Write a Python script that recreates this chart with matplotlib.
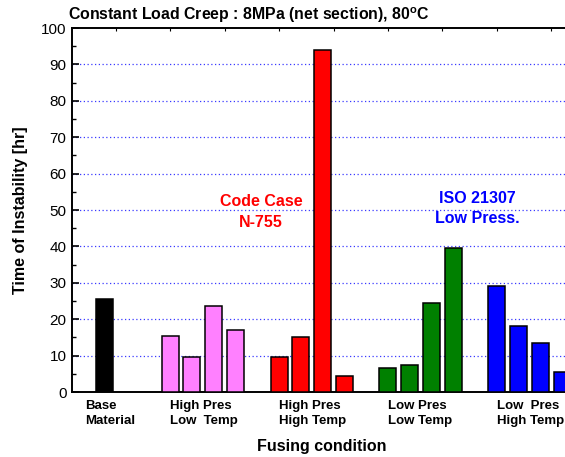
import matplotlib as mpl
import matplotlib.pyplot as plt

'''
constant load creep : time of instability for each fusing condition.
'''

mpl.rcParams['font.family'] = ['Liberation Sans', 'DejaVu Sans']

# data, one list per fusing condition
groups = ['Base\nMaterial', 'High Pres\nLow  Temp', 'High Pres\nHigh Temp',
          'Low Pres\nLow Temp', 'Low  Pres\nHigh Temp']
base_material = [25.5]
hp_low_temp = [15.5, 9.5, 23.5, 17.0]
hp_high_temp = [9.5, 15.0, 94.0, 4.5]
lp_low_temp = [6.5, 7.5, 24.5, 39.5]
lp_high_temp = [29.0, 18.0, 13.5, 5.5]
colours = ['black', '#ff80ff', '#ff0000', '#008000', '#0000ff']

series = [base_material, hp_low_temp, hp_high_temp, lp_low_temp, lp_high_temp]

fig = plt.figure(figsize=(5.65, 4.57), dpi=100)
ax = fig.add_axes([72/565, 65/457, 523/565, 364/457])

# bars: groups of four, one empty slot in between (base gets two slots)
starts = [0, 3, 8, 13, 18]
for start, vals, col in zip(starts, series, colours):
    xs = [start + i for i in range(len(vals))]
    ax.bar(xs, vals, 0.78, color=col, edgecolor='black', linewidth=1.1,
           zorder=3)

# group labels, left aligned under the first bar of each group
for i, (start, name) in enumerate(zip(starts, groups)):
    x = start - 0.9 if i == 0 else start
    ax.text(x, -2.2, name, ha='left', va='top', fontsize=9.5,
            fontweight='bold', linespacing=1.3)

ax.set_xlim(-1.5, 22.5)
ax.set_ylim(0, 100)

# y axis: major every 10, minor every 5, ticks inward
ax.set_yticks(range(0, 101, 10))
ax.set_yticks(range(5, 100, 10), minor=True)
ax.tick_params(axis='y', which='major', direction='in', length=5, width=1.2,
               labelsize=11, pad=4)
ax.tick_params(axis='y', which='minor', direction='in', length=3, width=1.0)

# x axis: tiny ticks on top only, no labels
ax.xaxis.set_ticks_position('top')
ax.set_xticks([0.5 + 2.5*i for i in range(9)])
ax.tick_params(axis='x', which='major', direction='in', length=2, width=0.8,
               labeltop=False, labelbottom=False)

# dotted blue grid lines
for y in range(10, 100, 10):
    ax.axhline(y, color='#3a3aff', linestyle=(0, (1, 2)), linewidth=0.9,
               zorder=1)

for s in ax.spines.values():
    s.set_linewidth(1.4)

ax.set_ylabel('Time of Instability [hr]', fontsize=11.5, fontweight='bold',
              labelpad=9)
fig.text(322/565, 1 - 447/457, 'Fusing condition', ha='center', va='center',
         fontsize=11.5, fontweight='bold')
fig.text(68/565, 1 - 15/457,
         r'Constant Load Creep : 8MPa (net section), 80$^\mathregular{o}$C',
         ha='left', va='center', fontsize=11.4, fontweight='bold')

# annotations
ax.text(7.18, 49.4, 'Code Case\nN-755', ha='center', va='center',
        color='#ff0000', fontsize=11.5, fontweight='bold', linespacing=1.45)
ax.text(17.1, 50.4, 'ISO 21307\nLow Press.', ha='center', va='center',
        color='#0000ff', fontsize=11.5, fontweight='bold', linespacing=1.45)

fig.savefig('out.png', dpi=100)
